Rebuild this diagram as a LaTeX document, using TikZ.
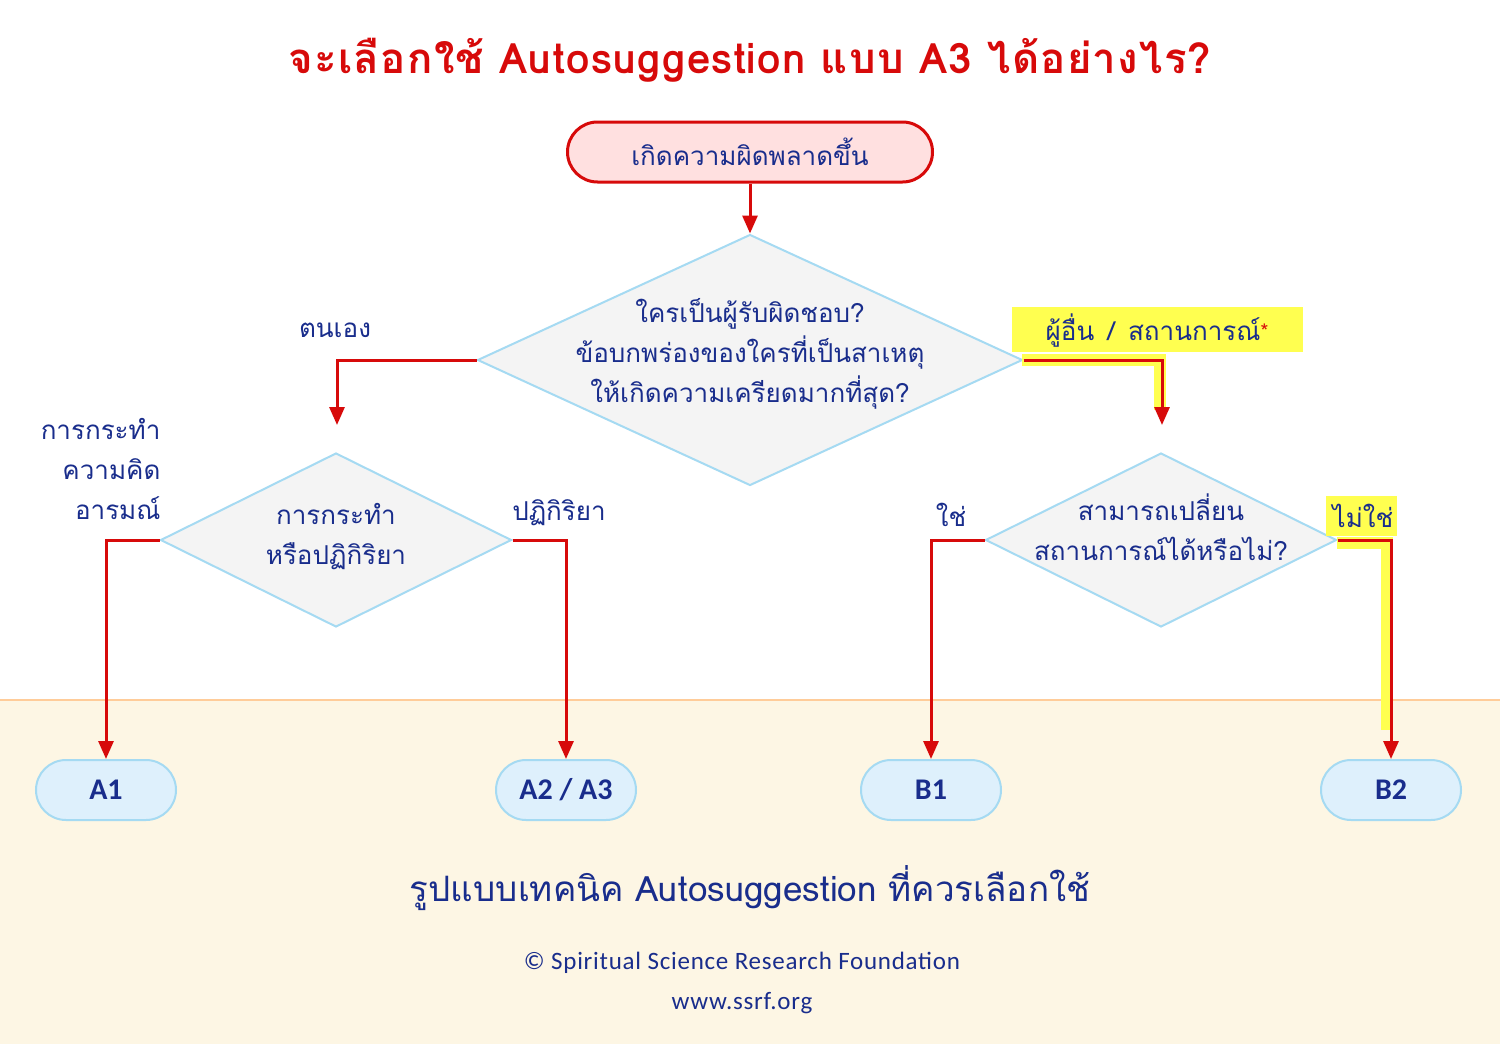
\documentclass[tikz,border=0pt]{standalone}
\usepackage{fontspec}
\setmainfont{Carlito}
\newfontfamily\thai[Script=Thai]{Loma}
\usetikzlibrary{shapes.geometric,arrows.meta}
\definecolor{tblue}{RGB}{25,45,140}
\definecolor{tred}{RGB}{215,10,10}
\definecolor{dborder}{RGB}{165,218,242}
\definecolor{dfill}{RGB}{244,244,244}
\definecolor{termfill}{RGB}{222,240,252}
\definecolor{cream}{RGB}{253,246,228}
\definecolor{hl}{RGB}{255,255,80}
\tikzset{
  dia/.style={draw=dborder,fill=dfill,line width=2pt,diamond,inner sep=0pt},
  term/.style={draw=dborder,fill=termfill,line width=2pt,rounded corners=30pt,minimum width=140pt,minimum height=60pt,font=\fontsize{30}{30}\selectfont\bfseries,text=tblue},
  lbl/.style={text=tblue,font=\thai\fontsize{26}{33}\selectfont},
  flow/.style={draw=tred,line width=3pt,-{Triangle[length=18pt,width=15pt]}},
  hlline/.style={draw=hl,line width=12pt}
}
\begin{document}
\begin{tikzpicture}[x=1pt,y=-1pt]
\useasboundingbox (0,0) rectangle (1500,1044);
\fill[white] (0,0) rectangle (1500,1044);
\fill[cream] (0,700) rectangle (1500,1044);
\draw[orange!40,line width=1.5pt] (0,700) -- (1500,700);
\node[text=tred,font=\thai\bfseries\fontsize{42}{42}\selectfont] (title) at (750,60) {\addfontfeatures{LetterSpace=3}จะเลือกใช้ Autosuggestion แบบ A3 ได้อย่างไร?};
\node[draw=tred,fill=red!12,line width=3pt,rounded corners=30pt,minimum width=365pt,minimum height=60pt,lbl] (start) at (750,152) {เกิดความผิดพลาดขึ้น};
\node[dia,minimum width=545pt,minimum height=251pt,aspect=2.17] (d1) at (750,360) {};
\node[lbl,align=center,font=\thai\fontsize{26}{40}\selectfont] at (750,354) {ใครเป็นผู้รับผิดชอบ?\\ข้อบกพร่องของใครที่เป็นสาเหตุ\\ให้เกิดความเครียดมากที่สุด?};
\node[dia,minimum width=351pt,minimum height=174pt,aspect=2.02] (d2) at (336,540) {};
\node[lbl,align=center,font=\thai\fontsize{26}{40}\selectfont] at (336,537) {การกระทำ\\หรือปฏิกิริยา};
\node[dia,minimum width=351pt,minimum height=174pt,aspect=2.02] (d3) at (1161,540) {};
\node[lbl,align=center,font=\thai\fontsize{26}{40}\selectfont] at (1161,527) {สามารถเปลี่ยน\\สถานการณ์ได้หรือไม่?};
\node[term] (a1) at (106,790) {A1};
\node[term] (a2) at (566,790) {A2 / A3};
\node[term] (b1) at (931,790) {B1};
\node[term] (b2) at (1391,790) {B2};
\coordinate (p1) at (337,425);
\coordinate (p2) at (1162,425);
% highlights
\fill[hl] (1012,307) rectangle (1303,352);
\draw[hlline] (1022,360) -- (1160,360) -- (1160,410);
\fill[hl] (1326,496) rectangle (1397,536);
\draw[hlline] (1337,543) -- (1387,543) -- (1387,730);
% arrows
\draw[flow] (start) -- (d1.north);
\draw[flow] (d1.west) -| (p1);
\draw[flow] (d1.east) -| (p2);
\draw[flow] (d2.west) -| (a1.north);
\draw[flow] (d2.east) -| (a2.north);
\draw[flow] (d3.west) -| (b1.north);
\draw[flow] (d3.east) -| (b2.north);
% labels
\node[lbl] (l1) at (335,330) {ตนเอง};
\node[lbl] (l2) at (1157,331) {ผู้อื่น \,/\, สถานการณ์\textcolor{tred}{\raisebox{2pt}{\fontsize{20}{20}\selectfont *}}};
\node[lbl,align=right,anchor=north east,font=\thai\fontsize{26}{40}\selectfont] (l3) at (164,415) {การกระทำ\\ความคิด\\อารมณ์};
\node[lbl] (l4) at (559,513) {ปฏิกิริยา};
\node[lbl] (l5) at (951,515) {ใช่};
\node[lbl] (l6) at (1363,516) {ไม่ใช่};
\node[text=tblue,font=\thai\fontsize{35}{35}\selectfont] (bt) at (750,888) {รูปแบบเทคนิค Autosuggestion ที่ควรเลือกใช้};
\node[text=tblue,font=\fontsize{25}{25}\selectfont] (c1) at (742,963) {\addfontfeatures{LetterSpace=3}© Spiritual Science Research Foundation};
\node[text=tblue,font=\fontsize{25}{25}\selectfont] (c2) at (742,1003) {\addfontfeatures{LetterSpace=3}www.ssrf.org};
\end{tikzpicture}
\end{document}
